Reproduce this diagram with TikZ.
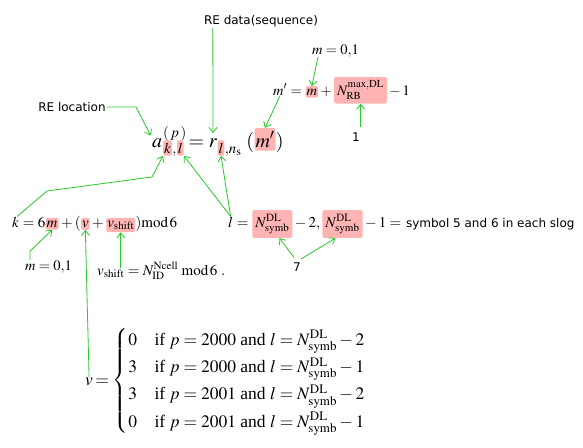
\documentclass[tikz,border=0pt]{standalone}
\usepackage{amsmath}
\IfFileExists{mathptmx.sty}{\usepackage{mathptmx}}{}
\usepackage{fontspec}
\setmainfont{Liberation Serif}
\newfontfamily\lblfont{DejaVu Sans}
\usetikzlibrary{arrows.meta,positioning,calc}
\definecolor{hlpink}{RGB}{255,180,180}
\definecolor{linkgreen}{RGB}{40,200,40}

\begin{document}
\begin{tikzpicture}[x=1pt,y=-1pt,
  eq/.style={inner sep=0pt,anchor=base west},
  hl/.style={eq,fill=hlpink,rounded corners=2pt,inner xsep=1pt,inner ysep=2.5pt},
  hlN/.style={hl,inner xsep=3pt,inner ysep=4pt},
  fa/.style={font=\fontsize{20}{24}\selectfont},
  fb/.style={font=\fontsize{15}{18}\selectfont},
  fc/.style={font=\fontsize{14.5}{17}\selectfont},
  fd/.style={font=\fontsize{17.5}{21}\selectfont},
  lbl/.style={font=\lblfont\fontsize{12}{14}\selectfont,inner sep=1pt},
  ln/.style={draw=linkgreen,line width=0.8pt,-{Straight Barb[length=5pt,width=8pt]}}]
\useasboundingbox (0,0) rectangle (583,447);
% main formula
\node[eq,fa] (ea) at (152,147) {$a$};
\node[eq,fa] (ep) at ($(ea.base east)+(0.5pt,10pt)$) {$\scriptstyle(\,p\,)$};
\node[hl,fa] (hk) at ($(ea.base east)+(0.5pt,-6pt)$) {$\scriptstyle k$};
\node[eq,fa] (ec) at (hk.base east) {$\scriptstyle,$};
\node[hl,fa] (hl1) at (ec.base east) {$\scriptstyle l$};
\node[eq,fa] (eq1) at (ea.base -| hl1.east) {${}={}$};
\node[eq,fa] (er) at (eq1.base east) {$r$};
\node[hl,fa] (hl2) at ($(er.base east)+(0pt,-6pt)$) {$\scriptstyle l$};
\node[eq,fa] (ens) at (hl2.base east) {$\scriptstyle,n_{\mathrm{s}}$};
\node[eq,fa] (elp) at (ea.base -| ens.east) {$\;($};
\node[hl,fa,inner ysep=3.5pt] (hmp) at (elp.base east) {$m'$};
\node[eq,fa] (erp) at (hmp.base east) {$)$};
% m'
\node[eq,fc] (mp) at (273,95) {$m'$};
\node[eq,fc] (m1) at (mp.base east) {${}={}$};
\node[hl,fc] (hm2) at (m1.base east) {$m$};
\node[eq,fc] (m2) at (hm2.base east) {${}+{}$};
\node[hlN,fc] (hN) at (m2.base east) {$N^{\mathrm{max,DL}}_{\mathrm{RB}}$};
\node[eq,fc] (m3) at (hN.base east) {${}-1$};
\node[eq,fc] (mt) at (312,54) {$m=0{,}1$};
% k
\node[eq,fb] (kk) at (12,227) {$k$};
\node[eq,fb] (k1) at (kk.base east) {${}=6$};
\node[hl,fb] (hm) at (k1.base east) {$m$};
\node[eq,fb] (k2) at (hm.base east) {${}+{}($};
\node[hl,fb] (hv) at (k2.base east) {$v$};
\node[eq,fb] (k3) at (hv.base east) {${}+{}$};
\node[hl,fb] (hvs) at (k3.base east) {$v_{\mathrm{shift}}$};
\node[eq,fb] (k4) at (hvs.base east) {$)\mathrm{mod}\,6$};
\node[eq,fc] (ml) at (25,270) {$m=0{,}1$};
\node[eq,fb] (vsv) at (97,275) {$v_{\mathrm{shift}}$};
\node[eq,fb] (vs1) at (vsv.base east) {${}=N^{\mathrm{Ncell}}_{\mathrm{ID}}\;\mathrm{mod}\,6\ .$};
% l
\node[eq,fb] (ll) at (228,227) {$l$};
\node[eq,fb] (l1) at (ll.base east) {${}={}$};
\node[hlN,fb] (hn1) at (l1.base east) {$N^{\mathrm{DL}}_{\mathrm{symb}}$};
\node[eq,fb] (l2) at (hn1.base east) {${}-2,\,$};
\node[hlN,fb] (hn2) at (l2.base east) {$N^{\mathrm{DL}}_{\mathrm{symb}}$};
\node[eq,fb] (l3) at (hn2.base east) {${}-1={}$};
\node[lbl,anchor=base west] (lsym) at (l3.base east) {symbol 5 and 6 in each slog};
% v
\node[eq,fd] (vv) at (85,385) {$v$};
\node[eq,fd] (vc) at (vv.base east) {\renewcommand\arraystretch{1.3}%
  $\,{=}\,\left\{\begin{array}{@{}l@{\quad}l@{}}
  0 & \text{if }p=2000\text{ and }l=N^{\mathrm{DL}}_{\mathrm{symb}}-2\\
  3 & \text{if }p=2000\text{ and }l=N^{\mathrm{DL}}_{\mathrm{symb}}-1\\
  3 & \text{if }p=2001\text{ and }l=N^{\mathrm{DL}}_{\mathrm{symb}}-2\\
  0 & \text{if }p=2001\text{ and }l=N^{\mathrm{DL}}_{\mathrm{symb}}-1
  \end{array}\right.$};
% labels
\node[lbl] (rel) at (72,107) {RE location};
\node[lbl] (red) at (261,21) {RE data(sequence)};
\node[lbl] (one) at (356,137) {1};
\node[lbl] (sev) at (297,267) {7};
% links
\draw[ln,shorten >=3pt] (rel.east) -- (136,107) -- (ea.north west);
\draw[ln,shorten >=5pt] ([xshift=10pt]red.south west) -- (er.north);
\draw[ln] ([xshift=6pt]mt.south west) -- (hm2.north);
\draw[ln] (mp.south) -- (hmp.north);
\draw[ln,shorten <=4pt] (hN.south |- one.north) -- (hN.south);
\draw[ln] ([xshift=5pt]kk.north west) -- (47,191) -- (152,177) -- (hk.south west);
\draw[ln] (ll.north) -- (hl1.south east);
\draw[ln] (ll.north) -- (hl2.south);
\draw[ln] ([xshift=5pt]ml.north west) -- ++(0,9pt) -- (hm.south);
\draw[ln] (vv.north) -- (hv.south);
\draw[ln] (hvs.south |- vsv.north) -- (hvs.south);
\draw[ln,shorten <=5pt] (sev.north) -- ([xshift=7pt]hn1.south);
\draw[ln,shorten <=5pt] (sev.north) -- ([xshift=-7pt]hn2.south);
\end{tikzpicture}
\end{document}
